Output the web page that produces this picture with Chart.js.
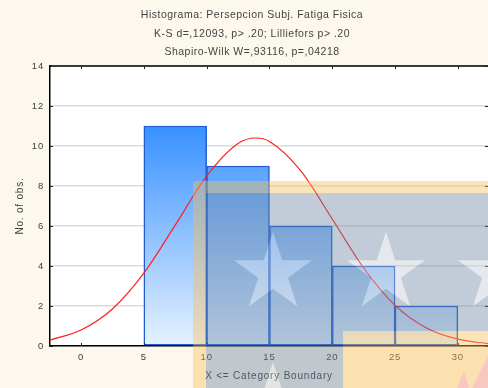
<!DOCTYPE html>
<html>
<head>
<meta charset="utf-8">
<script src="https://cdn.jsdelivr.net/npm/chart.js@4/dist/chart.umd.min.js"></script>
<style>
  html, body { margin: 0; padding: 0; background: #fdf8ee; }
  #wrap { width: 488px; height: 388px; }
</style>
</head>
<body>
<div id="wrap"><canvas id="c" width="488" height="388"></canvas></div>
<script>
// Histogram bins (upper boundaries 10..30, width 5) and counts
const binCenters = [7.5, 12.5, 17.5, 22.5, 27.5];
const binCounts = [11, 9, 6, 4, 2];

// Expected normal curve, sampled along X
const curveX = [-2.5, 0, 2.5, 5, 7.5, 10, 12.5, 13.9, 15, 17.5, 20, 22.5, 25, 27.5, 30, 32.5];
const curveY = [0.29, 0.80, 1.85, 3.64, 6.04, 8.50, 10.13, 10.40, 10.23, 8.76, 6.35, 3.90, 2.03, 0.90, 0.34, 0.11];

// Axis ticks
const xTicks = [0, 5, 10, 15, 20, 25, 30];
const yTicks = [0, 2, 4, 6, 8, 10, 12, 14];

const titleLines = [
  'Histograma: Persepcion Subj. Fatiga Fisica',
  'K-S d=,12093, p> .20; Lilliefors p> .20',
  'Shapiro-Wilk W=,93116, p=,04218'
];

const FONT = 'Liberation Sans, Arial, sans-serif';
const TEXT = '#3c3c3c';

// cream page, white plotting area; loose letter spacing for axis text
const backdrop = {
  id: 'backdrop',
  beforeDraw(chart) {
    const { ctx, chartArea: a } = chart;
    ctx.fillStyle = '#fdf8ee';
    ctx.fillRect(0, 0, chart.width, chart.height);
    ctx.fillStyle = '#ffffff';
    ctx.fillRect(a.left, a.top, a.right - a.left, a.bottom - a.top);
    ctx.letterSpacing = '0.8px';
  }
};

// top frame line and inward tick marks on all four sides
const frame = {
  id: 'frame',
  afterDatasetsDraw(chart) {
    const { ctx, chartArea: a, scales } = chart;
    ctx.save();
    ctx.strokeStyle = '#000';
    ctx.lineWidth = 1.5;
    ctx.beginPath();
    ctx.moveTo(a.left, a.top);
    ctx.lineTo(a.right, a.top);
    ctx.stroke();
    ctx.lineWidth = 1;
    ctx.strokeStyle = '#222';
    ctx.beginPath();
    scales.y.ticks.forEach(t => {
      const py = Math.round(scales.y.getPixelForValue(t.value)) + 0.5;
      ctx.moveTo(a.left, py); ctx.lineTo(a.left + 3, py);
      ctx.moveTo(a.right, py); ctx.lineTo(a.right - 3, py);
    });
    scales.x.ticks.forEach(t => {
      const px = Math.round(scales.x.getPixelForValue(t.value)) + 0.5;
      ctx.moveTo(px, a.top); ctx.lineTo(px, a.top + 3);
      ctx.moveTo(px, a.bottom); ctx.lineTo(px, a.bottom - 3);
    });
    ctx.stroke();
    ctx.restore();
  }
};

// three-line heading
const heading = {
  id: 'heading',
  afterDraw(chart) {
    const { ctx } = chart;
    ctx.save();
    ctx.fillStyle = '#444';
    ctx.font = '10.5px ' + FONT;
    ctx.letterSpacing = '0.5px';
    ctx.textAlign = 'center';
    ctx.textBaseline = 'middle';
    const ys = [15, 34, 52];
    titleLines.forEach((s, i) => ctx.fillText(s, 252, ys[i]));
    ctx.restore();
  }
};

// translucent flag-style backdrop panel over the lower right
function star(c, cx, cy, R) {
  const r = R * 0.382;
  c.beginPath();
  for (let i = 0; i < 10; i++) {
    const rad = i % 2 ? r : R;
    const ang = -Math.PI / 2 + i * Math.PI / 5;
    const px = cx + rad * Math.cos(ang), py = cy + rad * Math.sin(ang);
    i ? c.lineTo(px, py) : c.moveTo(px, py);
  }
  c.closePath();
  c.fill();
}
const panel = {
  id: 'panel',
  afterDraw(chart) {
    const W = chart.width, H = chart.height;
    const off = document.createElement('canvas');
    off.width = W; off.height = H;
    const c = off.getContext('2d');
    c.fillStyle = 'rgb(250,190,85)';
    c.fillRect(193, 181, W - 193, H - 181);
    c.fillStyle = 'rgb(102,130,160)';
    c.fillRect(206, 193, W - 206, H - 193);
    c.fillStyle = 'rgb(192,200,210)';
    star(c, 273, 273, 41);
    star(c, 386, 273, 41);
    star(c, 497, 273, 41);
    star(c, 273, 403, 41);
    c.fillStyle = 'rgb(250,190,85)';
    c.fillRect(343, 331, W - 343, H - 331);
    c.fillStyle = 'rgb(243,128,123)';
    c.beginPath();
    c.moveTo(472, H); c.lineTo(W, 356); c.lineTo(W, H); c.closePath(); c.fill();
    c.beginPath();
    c.moveTo(457, H); c.lineTo(464, 371); c.lineTo(469, H); c.closePath(); c.fill();
    const ctx = chart.ctx;
    ctx.save();
    ctx.globalAlpha = 0.4;
    ctx.drawImage(off, 0, 0);
    ctx.restore();
    ctx.letterSpacing = '0px';
  }
};

const barFill = (context) => {
  const chart = context.chart;
  if (!chart.chartArea) return '#5aa5ff';
  const ys = chart.scales.y;
  const g = chart.ctx.createLinearGradient(0, ys.getPixelForValue(Math.max(...binCounts)), 0, ys.getPixelForValue(0));
  g.addColorStop(0, '#3891ff');
  g.addColorStop(1, '#e6f2ff');
  return g;
};

new Chart(document.getElementById('c'), {
  data: {
    datasets: [
      {
        type: 'line',
        order: 0,
        data: curveX.map((x, i) => ({ x, y: curveY[i] })),
        borderColor: '#ff2020',
        borderWidth: 1.2,
        pointRadius: 0,
        cubicInterpolationMode: 'monotone',
        fill: false
      },
      {
        type: 'bar',
        order: 1,
        data: binCenters.map((x, i) => ({ x, y: binCounts[i] })),
        backgroundColor: barFill,
        borderColor: '#1f5cd0',
        borderWidth: 1.5,
        borderSkipped: false,
        barPercentage: 1,
        categoryPercentage: 1
      }
    ]
  },
  options: {
    responsive: false,
    animation: false,
    layout: { padding: { top: 66, right: 0, left: 0, bottom: 0 } },
    plugins: { legend: { display: false }, tooltip: { enabled: false }, title: { display: false } },
    scales: {
      x: {
        type: 'linear',
        offset: false,
        min: -2.47,
        max: 32.4,
        afterBuildTicks: s => { s.ticks = xTicks.map(v => ({ value: v })); },
        afterFit: s => { s.height = 42; },
        grid: { display: false, drawTicks: false, offset: false },
        border: { color: '#000', width: 1.5 },
        ticks: { color: TEXT, font: { family: FONT, size: 9.5 }, padding: 6, maxRotation: 0 },
        title: { display: true, text: 'X <= Category Boundary', color: TEXT,
                 font: { family: FONT, size: 10 }, padding: { top: 0, bottom: 6 } }
      },
      y: {
        min: 0,
        max: 14,
        afterBuildTicks: s => { s.ticks = yTicks.map(v => ({ value: v })); },
        afterFit: s => { s.width = 50; },
        grid: { color: '#dcdcdc', lineWidth: 1.5, drawTicks: false },
        border: { color: '#000', width: 1.5 },
        ticks: { color: TEXT, font: { family: FONT, size: 9.5 }, padding: 6 },
        title: { display: true, text: 'No. of obs.', color: TEXT,
                 font: { family: FONT, size: 10 }, padding: { top: 14, bottom: 0 } }
      }
    }
  },
  plugins: [backdrop, frame, heading, panel]
});
</script>
</body>
</html>
